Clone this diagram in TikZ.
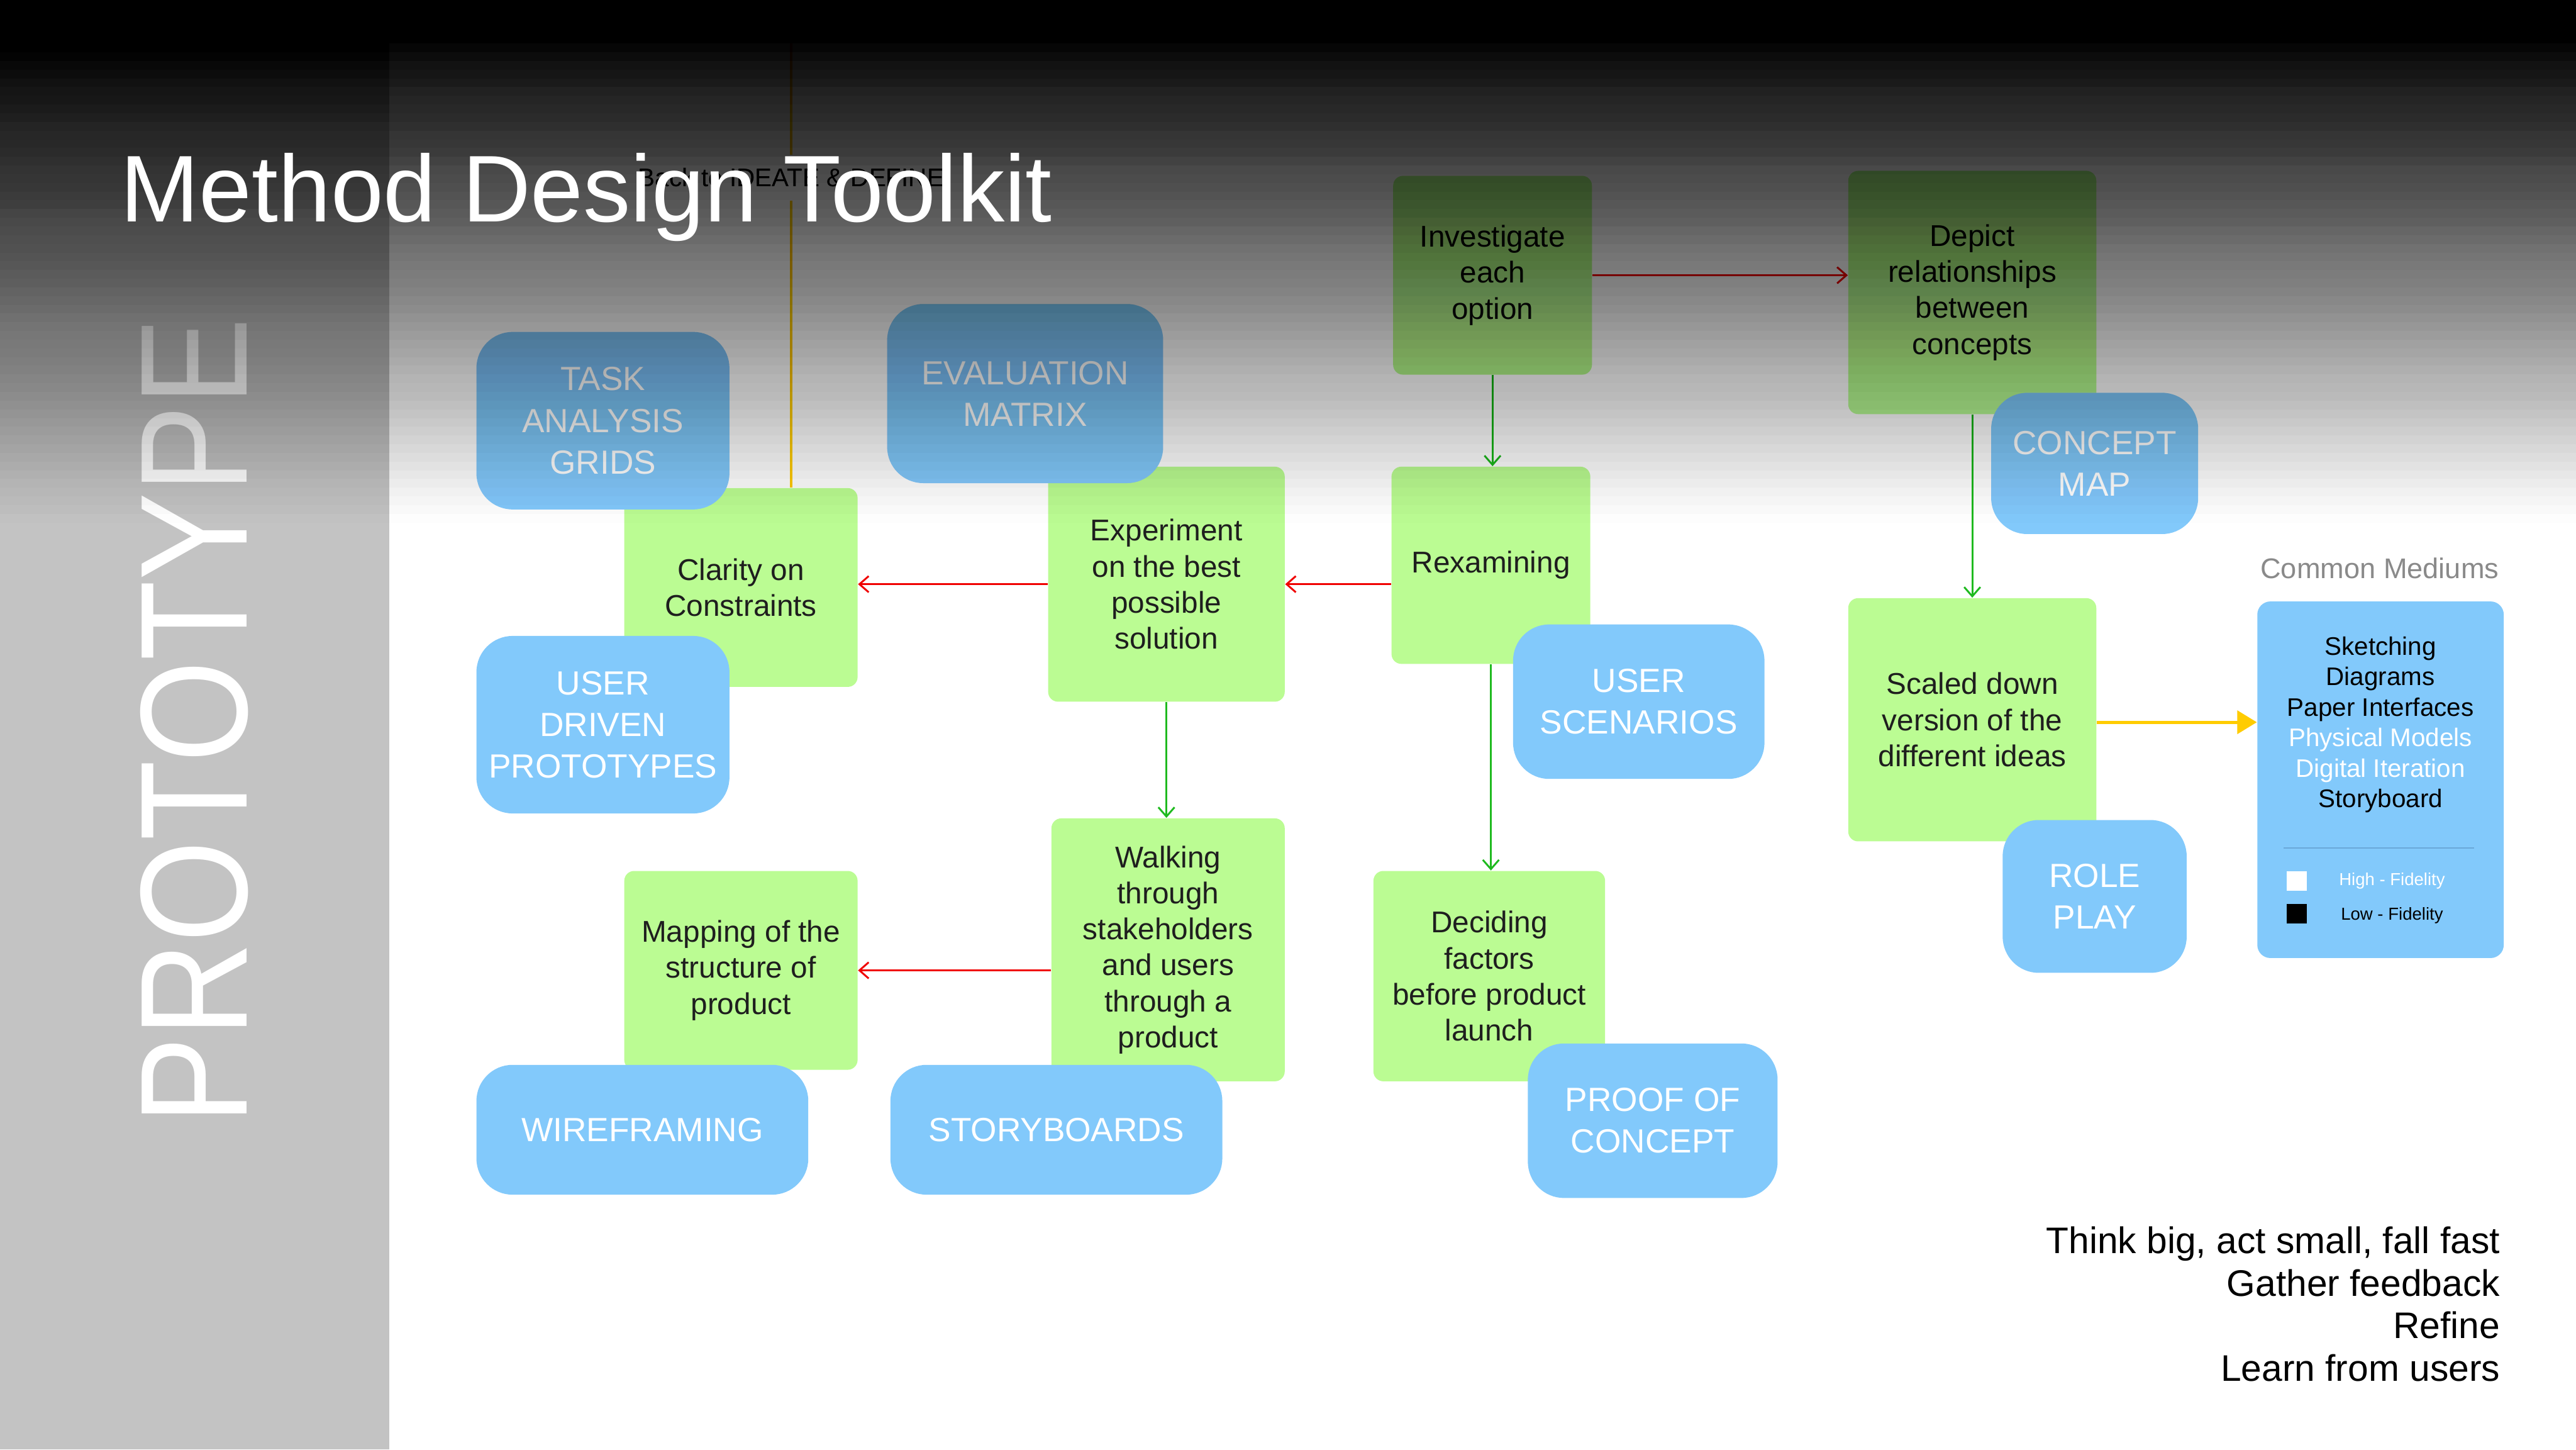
\documentclass[tikz,border=0pt]{standalone}
\usepackage{fontspec}
\setmainfont{Liberation Sans}
\usetikzlibrary{arrows.meta}
\definecolor{boxgreen}{HTML}{BBFC93}
\definecolor{boxblue}{HTML}{82C9FB}
\definecolor{stripgrey}{HTML}{C3C3C3}
\definecolor{linkred}{HTML}{F00000}
\definecolor{linkgreen}{HTML}{1FBA1F}
\definecolor{gold}{HTML}{FFCC00}
\definecolor{inkdark}{HTML}{1E1E1E}
\definecolor{rulecol}{HTML}{6AA8D8}
\definecolor{labelgrey}{HTML}{8A8A8A}
\begin{document}
\begin{tikzpicture}[scale=0.25]
\tikzstyle{every node}+=[inner sep=0pt]
\tikzstyle{greenbox}=[fill=boxgreen, rounded corners=0.15cm, text=inkdark, align=center, font=\fontsize{13}{15.6}\selectfont]
\tikzstyle{bluebox}=[fill=boxblue, rounded corners=0.55cm, text=white, align=center, font=\fontsize{14.5}{18}\selectfont]
\tikzstyle{redarrow}=[linkred, line width=0.8pt, -{Straight Barb[length=4pt,width=7pt]}]
\tikzstyle{greenarrow}=[linkgreen, line width=0.8pt, -{Straight Barb[length=4pt,width=7pt]}]
\tikzstyle{yellowarrow}=[gold, line width=1.4pt, -{Triangle[length=8.5pt,width=10pt]}]
\useasboundingbox (0,0) rectangle (156.8,-88.2);
\fill [white] (0,0) rectangle (156.8,-88.2);
\fill [stripgrey] (0,0) rectangle (23.7,-88.2);
\node [rotate=90, text=white, font=\fontsize{66}{66}\selectfont] (phase) at (11.85,-43.9) {\scalebox{0.86}[1]{PROTOTYPE}};
\node [greenbox, minimum width=3.55cm, minimum height=3.025cm] (clarity) at (45.1,-35.75) {Clarity on\\Constraints};
\node [greenbox, minimum width=3.6cm, minimum height=3.575cm] (exper) at (71.0,-35.55) {Experiment\\on the best\\possible\\solution};
\node [greenbox, minimum width=3.025cm, minimum height=3.025cm] (invest) at (90.85,-16.75) {Investigate\\each\\option};
\node [greenbox, minimum width=3.025cm, minimum height=3.0cm] (rexam) at (90.75,-34.4) {Rexamining};
\node [greenbox, minimum width=3.775cm, minimum height=3.7cm] (depict) at (120.05,-17.8) {Depict\\relationships\\between\\concepts};
\node [greenbox, minimum width=3.775cm, minimum height=3.7cm] (scaled) at (120.05,-43.8) {Scaled down\\version of the\\different ideas};
\node [greenbox, minimum width=3.55cm, minimum height=4.0cm] (walking) at (71.1,-57.8) {Walking\\through\\stakeholders\\and users\\through a\\product};
\node [greenbox, minimum width=3.55cm, minimum height=3.025cm] (mapping) at (45.1,-59.05) {Mapping of the\\structure of\\product};
\node [greenbox, minimum width=3.525cm, minimum height=3.2cm] (deciding) at (90.65,-59.4) {Deciding\\factors\\before product\\launch};
\node [bluebox, minimum width=3.85cm, minimum height=2.7cm] (task) at (36.7,-25.6) {TASK\\ANALYSIS\\GRIDS};
\node [bluebox, minimum width=3.85cm, minimum height=2.7cm] (userdriven) at (36.7,-44.1) {USER\\DRIVEN\\PROTOTYPES};
\node [bluebox, minimum width=4.2cm, minimum height=2.725cm] (evalm) at (62.4,-23.95) {EVALUATION\\MATRIX};
\node [bluebox, minimum width=3.825cm, minimum height=2.35cm] (userscen) at (99.75,-42.7) {USER\\SCENARIOS};
\node [bluebox, minimum width=3.15cm, minimum height=2.15cm] (conceptmap) at (127.5,-28.2) {CONCEPT\\MAP};
\node [bluebox, minimum width=2.8cm, minimum height=2.325cm] (roleplay) at (127.5,-54.55) {ROLE\\PLAY};
\node [bluebox, minimum width=3.8cm, minimum height=2.35cm] (proof) at (100.6,-68.2) {PROOF OF\\CONCEPT};
\node [bluebox, minimum width=5.05cm, minimum height=1.975cm] (wire) at (39.1,-68.75) {WIREFRAMING};
\node [bluebox, minimum width=5.05cm, minimum height=1.975cm] (story) at (64.3,-68.75) {STORYBOARDS};
\node [text=labelgrey, font=\fontsize{12.3}{14}\selectfont] (medtitle) at (144.85,-34.6) {Common Mediums};
\node [fill=boxblue, rounded corners=0.2cm, minimum width=3.75cm, minimum height=5.425cm] (mediums) at (144.9,-47.45) {};
\node [align=center, font=\fontsize{11}{13.2}\selectfont] (medlist) at (144.9,-44.1) {Sketching\\Diagrams\\Paper Interfaces\\\textcolor{white}{Physical Models}\\\textcolor{white}{Digital Iteration}\\Storyboard};
\draw [rulecol, line width=0.6pt] (139.0,-51.6) -- (150.6,-51.6);
\node [fill=white, minimum size=0.3cm] (hisq) at (139.8,-53.6) {};
\node [fill=black, minimum size=0.3cm] (losq) at (139.8,-55.6) {};
\node [text=white, font=\fontsize{7.5}{9}\selectfont] (hilab) at (145.6,-53.6) {High - Fidelity};
\node [font=\fontsize{7.5}{9}\selectfont] (lolab) at (145.6,-55.7) {Low - Fidelity};
\draw [redarrow] (invest.east) -- (depict.west |- invest.east);
\draw [greenarrow] (invest.south) -- (invest.south |- rexam.north);
\draw [redarrow] (rexam.west |- exper.east) -- (exper.east);
\draw [redarrow] (exper.west) -- (clarity.east |- exper.west);
\draw [greenarrow] (exper.south) -- (exper.south |- walking.north);
\draw [redarrow] (walking.west |- mapping.east) -- (mapping.east);
\draw [greenarrow] (rexam.south) -- (rexam.south |- deciding.north);
\draw [greenarrow] (depict.south) -- (scaled.north);
\draw [yellowarrow] ([yshift=-0.15cm]scaled.east) -- ([yshift=-0.15cm]mediums.west |- scaled.east);
\node [font=\fontsize{11}{13}\selectfont, inner sep=0.2cm] (back) at (48.15,-10.8) {Back to IDEATE \& DEFINE};
\coordinate (linetop) at (48.15,-2.0);
\draw [gold, line width=1.2pt] (linetop) -- (back.north);
\draw [gold, line width=1.2pt] (back.south) -- (back.south |- clarity.north);
\foreach \k in {1,...,59} {
  \pgfmathsetmacro\shadeop{1/(\k+0.5)}
  \fill [black, fill opacity=\shadeop] (0,0) rectangle (156.8,{-31.8*\k/60});
}
\fill [black, fill opacity=0.00833] (0,0) rectangle (156.8,-31.8);
\node [anchor=base west, text=white, font=\fontsize{41}{48}\selectfont] (title) at (7.3,-13.5) {Method Design Toolkit};
\node [anchor=north east, align=right, font=\fontsize{16}{18.5}\selectfont] (motto) at (152.2,-74.6) {Think big, act small, fall fast\\Gather feedback\\Refine\\Learn from users};
\end{tikzpicture}
\end{document}
